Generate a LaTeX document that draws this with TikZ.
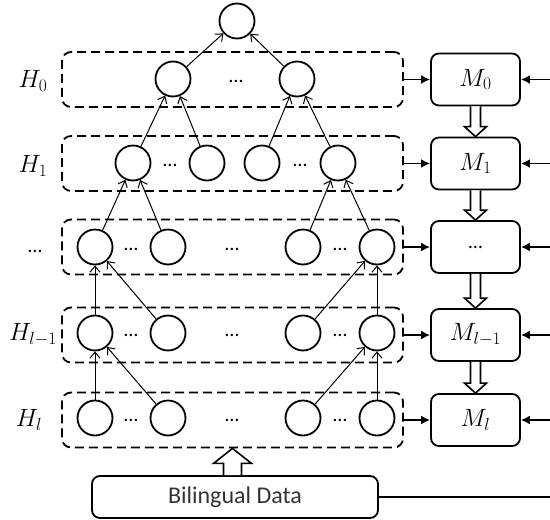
\RequirePackage{fix-cm}
\documentclass[tikz,border=0pt]{standalone}
\usepackage{fontspec}
\setmainfont{Carlito}
\usepackage{tikz}
\usetikzlibrary{positioning,arrows.meta,calc}

% hollow block arrow: base, tip, shaft half width, head half width, head length (signed)
\newcommand{\hollowarrow}[5]{%
  \draw[fat] ($(#1)+(-#3,0)$) -- ($(#2)+(-#3,#5)$) -- ($(#2)+(-#4,#5)$) -- (#2)
    -- ($(#2)+(#4,#5)$) -- ($(#2)+(#3,#5)$) -- ($(#1)+(#3,0)$);}

\begin{document}
\begin{tikzpicture}[x=1pt,y=-1pt,>={Latex[length=9pt,width=9pt]},
  neuron/.style={circle,draw,line width=1.8pt,minimum size=35pt,inner sep=0pt},
  layerbox/.style={draw,line width=1.8pt,dash pattern=on 9pt off 5pt,rounded corners=9pt,
    minimum width=341pt,minimum height=55pt},
  modelbox/.style={draw,line width=1.8pt,rounded corners=8pt,minimum width=89pt,
    minimum height=52pt,inner sep=0pt,font=\fontsize{25}{27}\selectfont},
  edge/.style={line width=1pt,-{Straight Barb[length=6pt,width=10pt]}},
  feed/.style={line width=1.8pt,->},
  fat/.style={line width=1.6pt,fill=white,line join=miter},
  dotstext/.style={font=\fontsize{20}{22}\selectfont,inner sep=0pt,anchor=base},
  lbl/.style={font=\fontsize{25}{27}\selectfont,inner sep=0pt}]
  \useasboundingbox (0,0) rectangle (550,520);

  % layers and their models
  \foreach \n/\y in {0/79.5,1/163.5,2/247,3/335,4/420}{
    \node[layerbox] (L\n) at (232.5,\y) {};
    \coordinate (R\n) at (550,\y);
  }
  \node[modelbox] (M0) at (475.5,79.5) {$M_0$};
  \node[modelbox] (M1) at (475.5,163.5) {$M_1$};
  \node[modelbox] (M2) at (475.5,247) {\fontsize{20}{22}\selectfont …};
  \node[modelbox] (M3) at (475.5,335) {$M_{l-1}$};
  \node[modelbox] (M4) at (475.5,420) {$M_l$};
  \foreach \n in {0,...,4}{
    \draw[feed] (L\n.east) -- (M\n.west);
    \draw[feed] (R\n) -- (M\n.east);
  }
  \foreach \a/\b in {M0/M1,M1/M2,M2/M3,M3/M4}{
    \hollowarrow{\a.south}{\b.north}{5}{11}{-10}
  }

  % labels
  \node[lbl] (lab0) at (33,81) {$H_0$};
  \node[lbl] (lab1) at (33,166) {$H_1$};
  \node[dotstext] (lab2) at (35,252) {…};
  \node[lbl] (lab3) at (33,335) {$H_{l-1}$};
  \node[lbl] (lab4) at (29,420) {$H_l$};

  % neurons
  \node[neuron] (root) at (237,21) {};
  \node[neuron] (h0a) at (173,79) {};
  \node[neuron] (h0b) at (297,79) {};
  \node[dotstext] at (236,82) {…};
  \foreach \c/\x in {a/133,b/207,c/262,d/338}
    \node[neuron] (h1\c) at (\x,163) {};
  \node[dotstext] at (170,166) {…};
  \node[dotstext] at (300,166) {…};
  \foreach \r/\y in {2/247,3/333,4/418}{
    \foreach \c/\x in {a/95,b/168,c/303,d/377}
      \node[neuron] (h\r\c) at (\x,\y) {};
    \node[dotstext] at (131,\y+3) {…};
    \node[dotstext] at (232,\y+3) {…};
    \node[dotstext] at (340,\y+3) {…};
  }

  % connections
  \foreach \s/\t in {h0a/root,h0b/root,h1a/h0a,h1b/h0a,h1c/h0b,h1d/h0b,
    h2a/h1a,h2b/h1a,h2c/h1d,h2d/h1d,h3a/h2a,h3b/h2a,h3c/h2d,h3d/h2d,
    h4a/h3a,h4b/h3a,h4c/h3d,h4d/h3d}
    \draw[edge] (\s) -- (\t);

  % data
  \node[draw,line width=1.8pt,rounded corners=8pt,minimum width=286pt,minimum height=42pt,
    font=\fontsize{24}{26}\selectfont,text=black!80] (data) at (235,497) {Bilingual Data};
  \coordinate (dataend) at (550,497);
  \draw[line width=1.5pt] (data.east) -- (dataend);
  \coordinate (database) at (L4.south |- data.north);
  \hollowarrow{database}{L4.south}{9}{19}{15}
\end{tikzpicture}
\end{document}
